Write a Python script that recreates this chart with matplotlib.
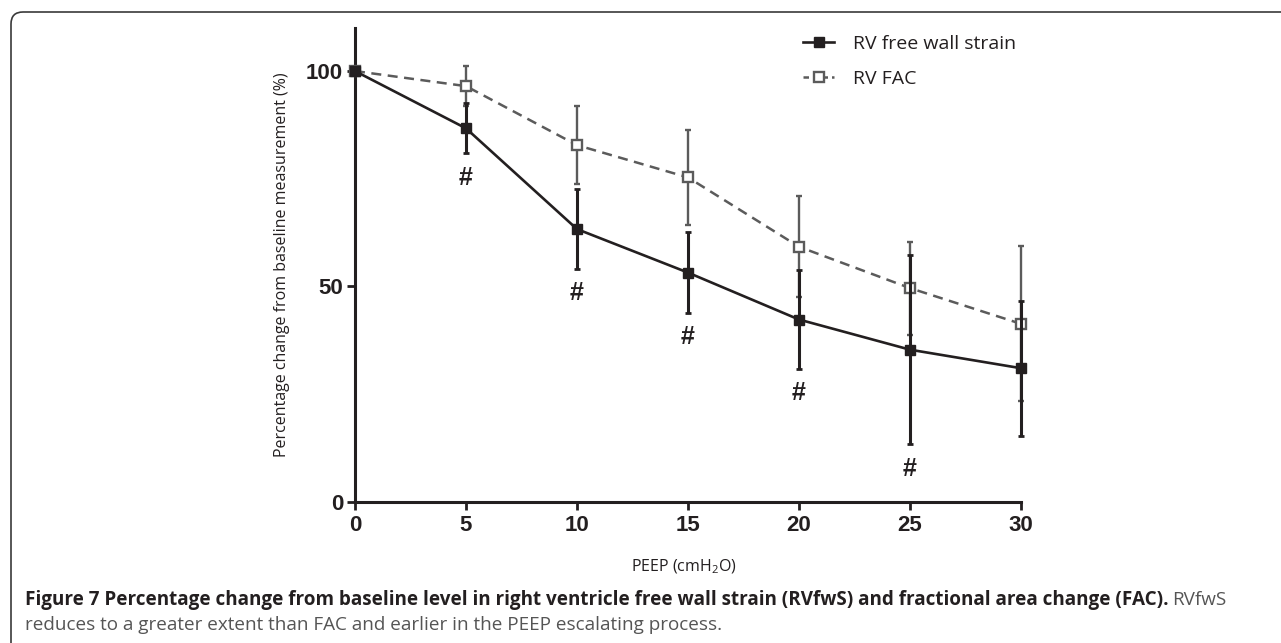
import matplotlib
matplotlib.use('Agg')
import matplotlib.pyplot as plt
from matplotlib.lines import Line2D
from matplotlib.patches import FancyBboxPatch
from matplotlib.transforms import IdentityTransform

peep = [0, 5, 10, 15, 20, 25, 30]
strain = [100, 86.7, 63.3, 53.2, 42.3, 35.3, 31.0]
strain_err = [0, 5.8, 9.2, 9.4, 11.5, 22.0, 15.7]
fac = [100, 96.5, 82.8, 75.3, 59.2, 49.6, 41.3]
fac_err = [0, 4.7, 9.1, 11.0, 11.7, 10.8, 18.0]
sig_idx = [1, 2, 3, 4, 5]
xticks = [0, 5, 10, 15, 20, 25, 30]
yticks = [0, 50, 100]

dark = '#231f20'
grey = '#5b5b5b'
W, H = 1281, 643

plt.rcParams['mathtext.default'] = 'regular'
fig = plt.figure(figsize=(W / 100, H / 100), dpi=100)
ax = fig.add_axes([355 / W, 1 - 501.7 / H, (1021 - 355) / W, (501.7 - 28) / H])

# FAC first so the strain bars sit on top
ax.errorbar(peep, fac, yerr=fac_err, color=grey, lw=1.8, ls=(0, (4, 2.6)),
            marker='s', ms=7, mfc='white', mec=grey, mew=1.7,
            elinewidth=1.7, capsize=2.2, capthick=1.7, clip_on=False, zorder=3)
ax.errorbar(peep, strain, yerr=strain_err, color=dark, lw=1.9,
            marker='s', ms=6.5, mfc=dark, mec=dark,
            elinewidth=2.2, capsize=2.2, capthick=2, clip_on=False, zorder=4)

for i in sig_idx:
    ax.annotate('#', xy=(peep[i], strain[i] - strain_err[i]), xytext=(0, -17.5),
                textcoords='offset points', ha='center', va='center',
                fontsize=18, fontweight='bold', family='Liberation Sans', color=dark)

ax.set_xlim(0, 30)
ax.set_ylim(0, 110)
tick_font = dict(family='Liberation Sans', fontweight='bold', fontsize=16, color=dark)
ax.set_xticks(xticks, [str(v) for v in xticks], **tick_font)
ax.set_yticks(yticks, [str(v) for v in yticks], **tick_font)
for s in ['top', 'right']:
    ax.spines[s].set_visible(False)
for s in ['left', 'bottom']:
    ax.spines[s].set_linewidth(2.2)
    ax.spines[s].set_color(dark)
ax.tick_params(length=6, width=2, color=dark, pad=2.5)
ax.tick_params(axis='x', pad=3.5)

ax.set_ylabel('Percentage change from baseline measurement (%)', family='Open Sans',
              fontsize=11.5, color=dark)
ax.yaxis.set_label_coords((282 - 355) / 666, 0.5)
ax.yaxis.label.set_va('center')
ax.set_xlabel(r'PEEP (cmH$_2$O)', family='Open Sans', fontsize=11.5, color=dark)
ax.xaxis.set_label_coords((684 - 355) / 666, -(567 - 501.7) / 473.7)
ax.xaxis.label.set_va('center')

handles = [Line2D([], [], color=dark, lw=1.9, marker='s', ms=6.5, mfc=dark),
           Line2D([], [], color=grey, lw=1.8, ls=(0, (2.2, 1.6)), marker='s', ms=7,
                  mfc='white', mec=grey, mew=1.7)]
ax.legend(handles, ['RV free wall strain', 'RV FAC'], loc='upper left',
          bbox_to_anchor=(803 / W, 1 - 35 / H), bbox_transform=fig.transFigure,
          frameon=False, borderpad=0, borderaxespad=0, handlelength=1.6,
          handletextpad=0.95, labelspacing=0.85, prop={'family': 'Open Sans', 'size': 14},
          labelcolor=dark)

# rounded frame of the figure panel
frame = FancyBboxPatch((11, -40), 1400, H - 12 + 40, boxstyle='round,pad=0,rounding_size=12',
                       transform=IdentityTransform(), fill=False, ec='#3a3a3a', lw=1.2)
fig.patches.append(frame)

# caption
renderer = fig.canvas.get_renderer()
bold_txt = ('Figure 7 Percentage change from baseline level in right ventricle free wall '
            'strain (RVfwS) and fractional area change (FAC).')
t1 = fig.text(25 / W, 1 - 600 / H, bold_txt, family='Open Sans', fontweight='bold',
              fontsize=12, va='center', color=dark)
w = t1.get_window_extent(renderer).width
size = 12 * (1163 - 25) / w
t1.set_fontsize(size)
fig.text(1172 / W, 1 - 600 / H, 'RVfwS', family='Open Sans', fontsize=size,
         va='center', color='#555555')
fig.text(25 / W, 1 - 625 / H,
         'reduces to a greater extent than FAC and earlier in the PEEP escalating process.',
         family='Open Sans', fontsize=size, va='center', color='#555555')

fig.savefig('out.png', dpi=100)
